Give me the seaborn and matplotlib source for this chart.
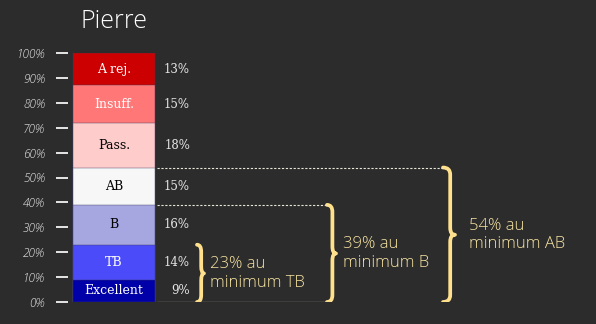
import numpy as np
import pandas as pd
import matplotlib
matplotlib.use("Agg")
import matplotlib.pyplot as plt
from matplotlib.path import Path
from matplotlib.patches import PathPatch
import seaborn as sns

# ---- data (bottom to top) ----
grades = ["Excellent", "TB", "B", "AB", "Pass.", "Insuff.", "A rej."]
pcts = [9, 14, 16, 15, 18, 15, 13]
colors = ["#0000A8", "#4B4BFA", "#A6A6E0", "#F7F7F7", "#FFCCCC", "#FF7777", "#CC0000"]
label_colors = ["white", "white", "black", "black", "black", "white", "white"]
tick_values = list(range(0, 101, 10))
tick_labels = [f"{v}%" for v in tick_values]
title = "Pierre"
# cumulative "au minimum" groups: (index of last grade included, text)
groups = [(1, "TB"), (2, "B"), (3, "AB")]

BG = "#2c2c2c"
CHALK = "#e6e6e6"
YEL = "#FFE08C"

sns.set_theme(style="dark")
plt.rcParams["font.family"] = ["DejaVu Sans"]

fig = plt.figure(figsize=(5.96, 3.24), dpi=100, facecolor=BG)
ax = fig.add_axes([0, 22 / 324, 1, 249 / 324])
ax.set_facecolor(BG)

df = pd.DataFrame({"grade": grades, "pct": pcts})
df["cum"] = df["pct"].cumsum()
df["mid"] = df["cum"] - df["pct"] / 2
df["pos"] = 114

# stacked bar: draw cumulative totals from top to bottom
for i in reversed(range(len(df))):
    sns.barplot(data=df.iloc[[i]], x="pos", y="cum", native_scale=True, orient="x",
                width=82, color=colors[i], saturation=1, errorbar=None, ax=ax,
                edgecolor="#3a3a60", linewidth=0.3)

ax.set_xlim(0, 596)
ax.set_ylim(0, 100)

# segment labels and percentages
for i, row in df.iterrows():
    ax.text(114, row["mid"], row["grade"], ha="center", va="center",
            color=label_colors[i], fontsize=9, family="DejaVu Serif")
    ax.text(190, row["mid"], f"{row['pct']}%", ha="right", va="center",
            color=CHALK, fontsize=8.5, family="DejaVu Serif")

# axis styling
for s in ["top", "right", "bottom"]:
    ax.spines[s].set_visible(False)
ax.spines["left"].set_position(("data", 62))
ax.spines["left"].set_visible(False)
ax.set_xticks([])
ax.set_xlabel("")
ax.set_ylabel("")
ax.set_yticks(tick_values)
ax.set_yticklabels(tick_labels, family="Open Sans", fontstyle="italic", fontweight="light")
ax.tick_params(axis="y", direction="inout", length=8.6, width=1.4, color=CHALK,
               pad=8, labelsize=8.5, labelcolor="#e8e8e8", left=True)
ax.grid(False)

# title
fig.text(114 / 596, 1 - 21 / 324, title, ha="center", va="center", color="white",
         fontsize=18, family="Open Sans", fontweight="light")

# braces
py = 100 / 249  # percent per pixel


def brace(x0, w, y_top, y_bot):
    xm = x0 + w * 0.6
    r = 7 * py
    ym = (y_top + y_bot) / 2
    verts = [(x0, y_top), (xm, y_top), (xm, y_top - r),
             (xm, ym + r),
             (xm, ym), (x0 + w, ym),
             (xm, ym), (xm, ym - r),
             (xm, y_bot + r),
             (xm, y_bot), (x0, y_bot)]
    codes = [Path.MOVETO, Path.CURVE3, Path.CURVE3,
             Path.LINETO,
             Path.CURVE3, Path.CURVE3,
             Path.CURVE3, Path.CURVE3,
             Path.LINETO,
             Path.CURVE3, Path.CURVE3]
    ax.add_patch(PathPatch(Path(verts, codes), fill=False, edgecolor=YEL, lw=2.7,
                           capstyle="round", joinstyle="round"))


brace_x = [197, 327, 443]
brace_w = [7, 9, 12]
text_x = [210, 343, 469]
line_end = [None, 326, 442]
for k, (idx, name) in enumerate(groups):
    top = df["cum"].iloc[idx]
    brace(brace_x[k], brace_w[k], top, 0)
    ax.text(text_x[k], top / 2, f"{top}% au\nminimum {name}", ha="left", va="center",
            color="#F7E4A2", fontsize=12, family="Open Sans", fontweight="light",
            linespacing=1.2)
    if line_end[k] is not None:
        ax.plot([157, line_end[k]], [top, top], ls=(0, (2, 1.5)), color="#e8e6d8", lw=0.8)

ax.plot([157, 330], [0, 0], color="#bdb89a", lw=0.9)

fig.savefig("out.png", dpi=100, facecolor=BG)
